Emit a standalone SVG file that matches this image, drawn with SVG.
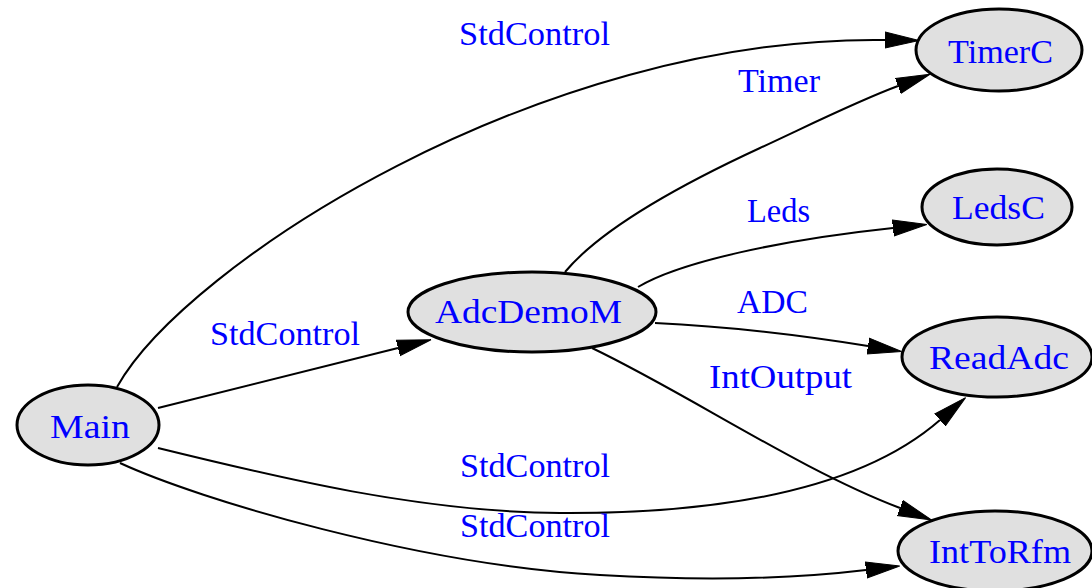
<svg xmlns="http://www.w3.org/2000/svg" width="1092" height="588" viewBox="0 0 1092 588">
<defs>
<style>
.node ellipse{fill:#e0e0e0;stroke:#000;stroke-width:3}
.node text,.lbl{font-family:"Liberation Serif","Times New Roman",serif;font-size:34px;fill:#0000ff}
.edge{fill:none;stroke:#000;stroke-width:2;marker-end:url(#arr)}
</style>
<marker id="arr" markerUnits="userSpaceOnUse" markerWidth="40" markerHeight="24" refX="0" refY="9" orient="auto" viewBox="0 0 40 18">
<path d="M0,1 L34,9 L0,17 Z" fill="#000" stroke="#000" stroke-width="1"/>
</marker>
</defs>
<rect width="1092" height="588" fill="#fff"/>
<g id="connectors">
<path class="edge" d="M117,387 C185,265 540,35 885,40"/>
<path class="edge" d="M158,408 C250,385 330,365 398,348"/>
<path class="edge" d="M158,448 C280,478 420,512 560,513 C720,514 860,490 940,420"/>
<path class="edge" d="M120,463 C200,500 420,565 600,575 C720,582 800,578 866,570"/>
<path class="edge" d="M565,272 C600,230 680,185 760,148 C820,120 860,100 898,86"/>
<path class="edge" d="M638,287 C680,262 780,240 893,228"/>
<path class="edge" d="M655,323 C720,326 800,335 868,346"/>
<path class="edge" d="M592,348 C690,395 800,470 900,508"/>
<text class="lbl" x="459" y="45" textLength="151" lengthAdjust="spacingAndGlyphs">StdControl</text>
<text class="lbl" x="738" y="92" textLength="82" lengthAdjust="spacingAndGlyphs">Timer</text>
<text class="lbl" x="747" y="222" textLength="63" lengthAdjust="spacingAndGlyphs">Leds</text>
<text class="lbl" x="737" y="313" textLength="71" lengthAdjust="spacingAndGlyphs">ADC</text>
<text class="lbl" x="709" y="388" textLength="143" lengthAdjust="spacingAndGlyphs">IntOutput</text>
<text class="lbl" x="210" y="345" textLength="150" lengthAdjust="spacingAndGlyphs">StdControl</text>
<text class="lbl" x="460" y="477" textLength="150" lengthAdjust="spacingAndGlyphs">StdControl</text>
<text class="lbl" x="460" y="537" textLength="150" lengthAdjust="spacingAndGlyphs">StdControl</text>
</g>
<g id="Main" class="node"><ellipse cx="88" cy="425" rx="71" ry="40"/><text x="50" y="438" textLength="80" lengthAdjust="spacingAndGlyphs">Main</text></g>
<g id="AdcDemoM" class="node"><ellipse cx="532" cy="312" rx="124" ry="40"/><text x="435" y="323" textLength="187" lengthAdjust="spacingAndGlyphs">AdcDemoM</text></g>
<g id="TimerC" class="node"><ellipse cx="999" cy="50" rx="83" ry="41"/><text x="948" y="63" textLength="105" lengthAdjust="spacingAndGlyphs">TimerC</text></g>
<g id="LedsC" class="node"><ellipse cx="997" cy="207" rx="75" ry="38"/><text x="952" y="219" textLength="93" lengthAdjust="spacingAndGlyphs">LedsC</text></g>
<g id="ReadAdc" class="node"><ellipse cx="997" cy="357" rx="95" ry="40"/><text x="929" y="369" textLength="140" lengthAdjust="spacingAndGlyphs">ReadAdc</text></g>
<g id="IntToRfm" class="node"><ellipse cx="995" cy="551" rx="97" ry="40"/><text x="929" y="563" textLength="142" lengthAdjust="spacingAndGlyphs">IntToRfm</text></g>
</svg>
